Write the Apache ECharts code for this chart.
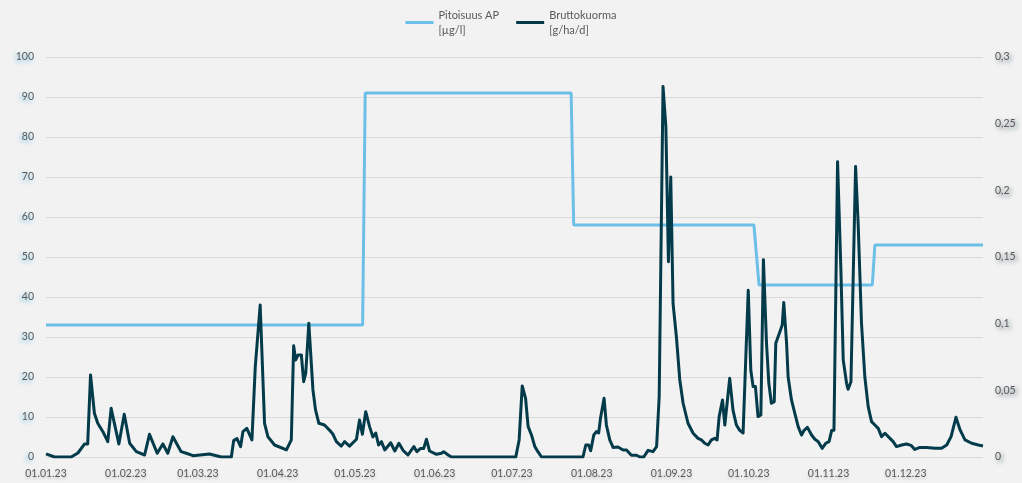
<!DOCTYPE html>
<html>
<head>
<meta charset="utf-8">
<script src="https://cdn.jsdelivr.net/npm/echarts@6/dist/echarts.min.js"></script>
<style>
    html,body{margin:0;padding:0;background:#f2f2f2}
    #chart{width:1022px;height:483px}
</style>
</head>
<body>
<div id="chart"></div>
<script>
// Pitoisuus AP [µg/l], päivä vuoden alusta -> arvo (porrasviiva)
const concDays = [0,123,124,204,205,275,277,321,322,364]
const concValues = [33,33,91,91,58,58,43,43,53,53]

// Bruttokuorma [g/ha/d]
const loadDays = [0,3.3,9.8,12.4,15,16.2,17.3,18.8,20.1,22.1,24,25.3,28.3,30.4,32.5,35.1,38.3,40.2,43.2,45.4,
    47.3,49.3,52.5,54.5,57.1,63.5,68.1,72,72.9,74.2,75.6,76.5,78,80,81.3,83.2,84.9,86.2,88.8,93.4,
    94,95.3,96.2,97,97.9,99.2,100.1,100.9,102.1,103.7,104.7,106,108.2,110.2,111.5,112.8,114.7,116,117.9,120.6,
    121.8,122.9,124.2,125.7,127,128.1,129.2,130.3,131.6,133.9,135.5,137.1,138.7,140.6,142.9,144.1,145.4,146.7,147.8,149,
    151.7,153.6,154.5,156.2,157.5,182.5,183.8,185,186.3,187.3,188.6,189.9,191.1,192.5,208.6,209.7,210.8,211.6,212.8,213.8,
    214.7,215.4,216.8,217.7,219,220.3,222.2,224.2,225.5,227.4,229.4,230.7,232.2,233.9,235.8,237.2,238.2,239.7,240.8,241.8,
    242.7,243.6,244.9,246.2,247.5,249.4,251.4,253.3,254.6,255.9,257.2,258.5,259.8,260.7,261.5,262.8,263.7,265.6,266.9,268.2,
    269.5,270.8,272.8,273.8,274.7,275.6,276.6,277.7,278.7,279.9,280.8,281.8,282.9,283.5,285.1,286,286.6,287.7,288.3,289.6,
    290.9,292.2,293.5,294.5,295.8,297.4,298.7,300,301.5,302.9,304.2,305.2,306.1,307.5,308.8,309.7,311,311.6,312.7,314.5,
    315.5,316.8,318.1,319.4,320.7,322,323.3,324.6,325.9,329.1,330.4,332.4,334.3,336.2,337.5,339.5,342.1,345.3,347.9,349.9,
    351.6,353.5,355.1,357,359.6,362.2,364]
const loadValues = [0.0023,0,0,0.003,0.0098,0.0098,0.0615,0.0328,0.0253,0.019,0.0115,0.0365,0.0098,0.032,0.0103,0.004,0.0015,0.017,0.0028,0.0098,
    0.0028,0.0152,0.004,0.0028,0.001,0.0023,0,0,0.0123,0.0138,0.0078,0.019,0.0215,0.0128,0.0678,0.114,0.0253,0.0152,0.009,0.0053,
    0.004,0.0128,0.0835,0.0728,0.0765,0.0765,0.0565,0.0628,0.1003,0.0503,0.0353,0.0253,0.024,0.02,0.017,0.0115,0.0082,0.0115,0.0082,0.0133,
    0.0278,0.017,0.034,0.0228,0.015,0.018,0.009,0.0115,0.0053,0.0107,0.0045,0.0103,0.005,0.0015,0.0078,0.004,0.0063,0.0063,0.0133,0.0045,
    0.002,0.0028,0.004,0.0015,0,0,0.0128,0.0533,0.044,0.0228,0.0165,0.0078,0.004,0,0,0.009,0.009,0.0047,0.0165,0.019,
    0.018,0.029,0.044,0.024,0.0128,0.0072,0.0075,0.0053,0.0053,0.0013,0.0013,0,0,0.005,0.004,0.0078,0.045,0.2778,0.2478,0.1465,
    0.21,0.115,0.09,0.058,0.0403,0.0253,0.0178,0.014,0.0128,0.0103,0.009,0.0128,0.014,0.0128,0.0303,0.0428,0.024,0.059,0.035,0.024,
    0.02,0.018,0.125,0.065,0.0528,0.0528,0.0303,0.0315,0.148,0.0853,0.0553,0.0403,0.0415,0.0853,0.094,0.099,0.1158,0.0853,0.06,0.0428,
    0.0328,0.0228,0.0165,0.02,0.0222,0.0165,0.0133,0.0115,0.0065,0.0103,0.0115,0.0198,0.02,0.2215,0.14,0.0728,0.0553,0.0508,0.0565,0.2178,
    0.175,0.1003,0.06,0.0378,0.0265,0.024,0.0215,0.0153,0.0178,0.0115,0.0078,0.009,0.0098,0.0085,0.0057,0.0072,0.0072,0.0065,0.0065,0.009,
    0.0153,0.0298,0.0203,0.0128,0.0103,0.009,0.0083]

// kuukauden ensimmäiset päivät x-akselille
const monthDays = [0,31,59,90,120,151,181,212,243,273,304,334]
const monthLabels = ["01.01.23","01.02.23","01.03.23","01.04.23","01.05.23","01.06.23",
    "01.07.23","01.08.23","01.09.23","01.10.23","01.11.23","01.12.23"]

const concName = "Pitoisuus AP\n[µg/l]"
const loadName = "Bruttokuorma\n[g/ha/d]"

const pairs = (xs,ys) => xs.map((x,i)=>[x,ys[i]])
const font = "Lato, 'Open Sans', sans-serif"

const chart = echarts.init(document.getElementById("chart"))
const option = {
    backgroundColor:"#f2f2f2",
    animation:false,
    textStyle:{fontFamily:font},
    legend:{
        top:0,
        left:"center",
        padding:0,
        icon:"rect",
        itemWidth:28,
        itemHeight:3,
        itemGap:17,
        textStyle:{color:"#595959",fontSize:11,lineHeight:15,padding:[15,0,0,0]},
        data:[concName,loadName]
    },
    grid:{left:46,right:39,top:57,bottom:26},
    xAxis:{
        type:"value",
        min:0,
        max:364,
        axisLine:{show:false},
        axisTick:{show:false},
        splitLine:{show:false},
        axisLabel:{
            customValues:monthDays,
            formatter:v => monthLabels[monthDays.indexOf(v)],
            color:"#595959",
            fontSize:10.5,
            margin:11,
            textShadowColor:"rgba(0,0,0,0.2)",
            textShadowBlur:3,
            textShadowOffsetY:2
        }
    },
    yAxis:[
        {
            type:"value",
            min:0,
            max:100,
            interval:10,
            axisLine:{show:false},
            axisTick:{show:false},
            splitLine:{lineStyle:{color:"#d9d9d9",width:1}},
            axisLabel:{
                color:"#595959",
                fontSize:10.5,
                margin:12,
                textShadowColor:"rgba(108,192,232,0.9)",
                textShadowBlur:4,
                textShadowOffsetX:-2,
                textShadowOffsetY:2
            }
        },
        {
            type:"value",
            min:0,
            max:0.3,
            interval:0.05,
            position:"right",
            axisLine:{show:false},
            axisTick:{show:false},
            splitLine:{show:false},
            axisLabel:{
                color:"#595959",
                fontSize:10.5,
                margin:12,
                formatter:v => String(+v.toFixed(2)).replace(".",","),
                textShadowColor:"rgba(0,45,60,0.6)",
                textShadowBlur:4,
                textShadowOffsetX:2,
                textShadowOffsetY:2
            }
        }
    ],
    series:[
        {
            name:concName,
            type:"line",
            yAxisIndex:0,
            data:pairs(concDays,concValues),
            showSymbol:false,
            itemStyle:{color:"#6cc0e8"},
            lineStyle:{color:"#6cc0e8",width:3}
        },
        {
            name:loadName,
            type:"line",
            yAxisIndex:1,
            data:pairs(loadDays,loadValues),
            showSymbol:false,
            itemStyle:{color:"#033b4a"},
            lineStyle:{color:"#033b4a",width:3,join:"round"}
        }
    ]
}
chart.setOption(option)
</script>
</body>
</html>
